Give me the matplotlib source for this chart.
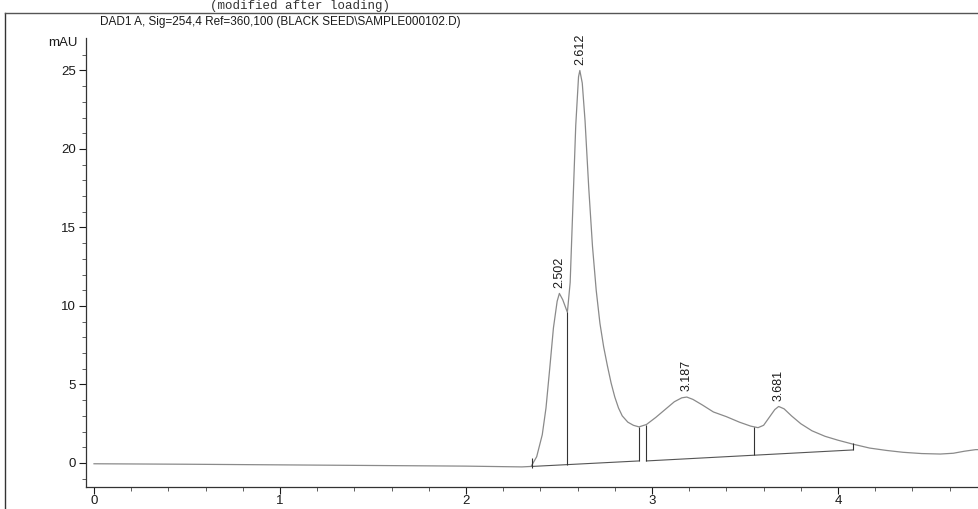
import numpy as np
import matplotlib
matplotlib.use("Agg")
import matplotlib.pyplot as plt

plt.rcParams['font.family'] = ['Liberation Sans', 'DejaVu Sans']

# chromatogram trace (time in min, signal in mAU)
rt = [0.00, 0.50, 1.00, 1.50, 2.00, 2.30, 2.35, 2.38, 2.41, 2.43, 2.45, 2.47,
      2.49, 2.502, 2.52, 2.545, 2.56, 2.575, 2.59, 2.605, 2.612, 2.625, 2.64,
      2.66, 2.68, 2.70, 2.72, 2.74, 2.76, 2.78, 2.80, 2.82, 2.84, 2.87, 2.90,
      2.93, 2.97, 3.02, 3.07, 3.12, 3.16, 3.187, 3.22, 3.27, 3.33, 3.40, 3.47,
      3.53, 3.57, 3.60, 3.63, 3.66, 3.681, 3.71, 3.75, 3.80, 3.86, 3.93, 4.00,
      4.08, 4.17, 4.26, 4.35, 4.45, 4.55, 4.62, 4.68, 4.74, 4.78]
signal = [-0.05, -0.08, -0.12, -0.16, -0.20, -0.25, -0.22, 0.4, 1.8, 3.5, 6.0, 8.6,
          10.3, 10.8, 10.4, 9.6, 11.5, 16.5, 21.5, 24.6, 25.0, 24.2, 21.8,
          17.5, 13.8, 11.0, 8.9, 7.4, 6.2, 5.1, 4.2, 3.5, 3.0, 2.6, 2.4,
          2.3, 2.45, 2.9, 3.4, 3.9, 4.15, 4.2, 4.05, 3.7, 3.25, 2.95, 2.6,
          2.35, 2.25, 2.4, 2.9, 3.4, 3.6, 3.45, 3.0, 2.5, 2.05, 1.7, 1.45,
          1.2, 0.95, 0.8, 0.68, 0.6, 0.57, 0.62, 0.75, 0.85, 0.85]

# labelled peaks
peak_rt = [2.502, 2.612, 3.187, 3.681]
peak_h = [10.8, 25.0, 4.2, 3.6]

# integration baselines
base_t = [[2.355, 2.93], [2.97, 4.08]]
base_y = [[-0.22, 0.13], [0.13, 0.83]]

# drop lines / tick marks
drop_t = [2.355, 2.545, 2.93, 2.97, 3.55, 4.08]
drop_lo = [-0.35, -0.10, 0.13, 0.13, 0.50, 0.83]
drop_hi = [0.30, 9.6, 2.3, 2.45, 2.3, 1.3]

fig = plt.figure(figsize=(9.79, 5.09), dpi=100)
ax = fig.add_axes([86/979, 22/509, 1 - 86/979, 449/509])

ax.plot(rt, signal, color="#8a8a8a", lw=0.9)
for bt, by in zip(base_t, base_y):
    ax.plot(bt, by, color="#555555", lw=0.8)
ax.vlines(drop_t, drop_lo, drop_hi, color="#333333", lw=0.8)

for t, h in zip(peak_rt, peak_h):
    ax.annotate(f"{t:.3f}", (t, h), xytext=(0, 4), textcoords="offset points",
                rotation=90, ha="center", va="bottom", fontsize=9, color="#1a1a1a")

ax.set_xlim(-0.043, 4.758)
ax.set_ylim(-1.53, 27.07)
ax.set_xticks([0, 1, 2, 3, 4])
ax.set_xticks(np.arange(0, 4.8, 0.2), minor=True)
ax.set_yticks([0, 5, 10, 15, 20, 25])
ax.set_yticks(np.arange(-1, 27, 1), minor=True)
ax.tick_params(labelsize=9.5, colors="#1a1a1a", length=5, width=0.8)
ax.tick_params(which="minor", length=3, width=0.6, colors="#444444")
ax.tick_params(axis="y", pad=2)
ax.tick_params(axis="x", pad=1)

for s in ["top", "right"]:
    ax.spines[s].set_visible(False)
for s in ["left", "bottom"]:
    ax.spines[s].set_color("#333333")
    ax.spines[s].set_linewidth(0.9)

ax.text(-0.009, 0.988, "mAU", transform=ax.transAxes, ha="right", va="center",
        fontsize=9.5, color="#1a1a1a")

# page frame and headers of the printout
fig.add_artist(plt.Line2D([5/979, 5/979], [0, 1 - 13/509], color="#333333", lw=1.0))
fig.add_artist(plt.Line2D([5/979, 1], [1 - 13/509, 1 - 13/509], color="#555555", lw=1.0))
fig.text(100/979, 1 - 22/509, "DAD1 A, Sig=254,4 Ref=360,100 (BLACK SEED\\SAMPLE000102.D)",
         ha="left", va="center", fontsize=8.5, color="#1a1a1a")
fig.text(300/979, 1 - 0.5/509, "(modified after loading)", ha="center", va="top",
         fontsize=9, family="Liberation Mono", color="#333333")

fig.savefig("out.png", dpi=100)
